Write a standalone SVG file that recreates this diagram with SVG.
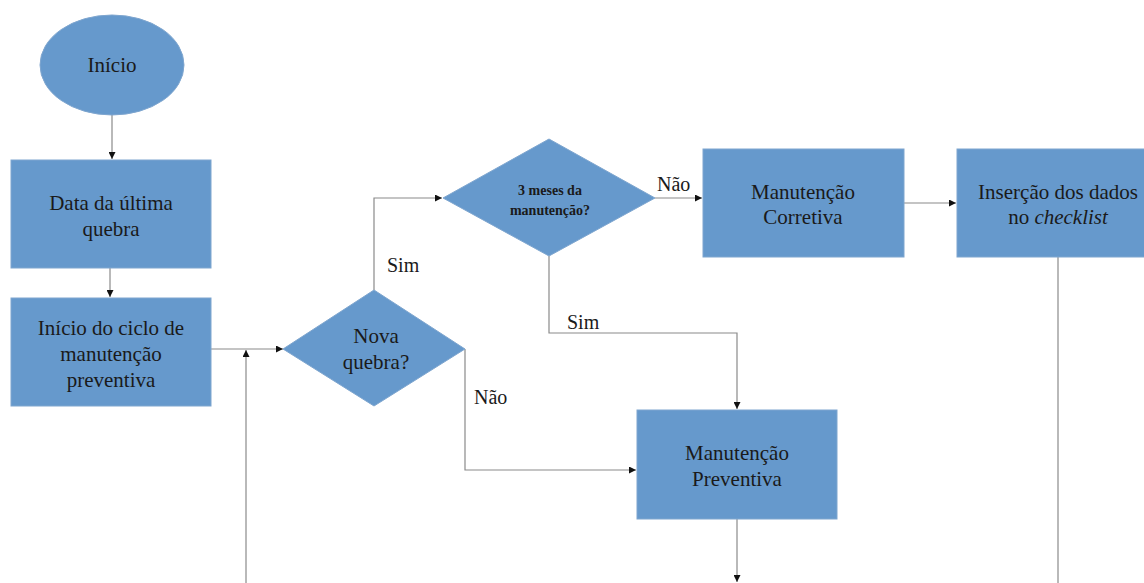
<svg xmlns="http://www.w3.org/2000/svg" width="1144" height="583" viewBox="0 0 1144 583">
<style>
.n{fill:#6699cc;stroke:#7fa6cf;stroke-width:1}
.t{font-family:"Liberation Serif","Times New Roman",serif;font-size:21px;fill:#1a1a1a;text-anchor:middle}
.s{font-family:"Liberation Serif","Times New Roman",serif;font-size:14px;font-weight:bold;fill:#1a1a1a;text-anchor:middle}
.l{font-family:"Liberation Serif","Times New Roman",serif;font-size:20px;fill:#1a1a1a}
.c{fill:none;stroke:#8a8a8a;stroke-width:1.2}
</style>
<defs>
<marker id="a" viewBox="0 0 10 10" refX="10" refY="5" markerWidth="7" markerHeight="7" orient="auto" markerUnits="userSpaceOnUse">
<path d="M0,0 L10,5 L0,10 z" fill="#111"/>
</marker>
</defs>
<rect width="1144" height="583" fill="#fff"/>
<g id="connectors">
<path class="c" d="M112,115 V159" marker-end="url(#a)"/>
<path class="c" d="M110,268 V297" marker-end="url(#a)"/>
<path class="c" d="M211,349 H283" marker-end="url(#a)"/>
<path class="c" d="M246,583 V350" marker-end="url(#a)"/>
<path class="c" d="M374,290 V198 H442" marker-end="url(#a)"/>
<path class="c" d="M655,198 H702" marker-end="url(#a)"/>
<path class="c" d="M904,203 H956" marker-end="url(#a)"/>
<path class="c" d="M549,256 V333 H737 V409" marker-end="url(#a)"/>
<path class="c" d="M465,349 V470 H636" marker-end="url(#a)"/>
<path class="c" d="M737,519 V582" marker-end="url(#a)"/>
<path class="c" d="M1058,257 V583"/>
<text class="l" x="387" y="272">Sim</text>
<text class="l" x="657" y="191">Não</text>
<text class="l" x="567" y="329">Sim</text>
<text class="l" x="474" y="404">Não</text>
</g>
<g id="inicio">
<ellipse class="n" cx="112" cy="65" rx="72" ry="50" stroke="#444"/>
<text class="t" x="112" y="72">Início</text>
</g>
<g id="data">
<rect class="n" x="11" y="160" width="200" height="108"/>
<text class="t" x="111" y="210">Data da última</text>
<text class="t" x="111" y="236">quebra</text>
</g>
<g id="ciclo">
<rect class="n" x="11" y="298" width="200" height="108"/>
<text class="t" x="111" y="335">Início do ciclo de</text>
<text class="t" x="111" y="361">manutenção</text>
<text class="t" x="111" y="387">preventiva</text>
</g>
<g id="nova">
<polygon class="n" points="283,349 374,290 465,349 374,406"/>
<text class="t" x="376" y="343">Nova</text>
<text class="t" x="376" y="369">quebra?</text>
</g>
<g id="meses">
<polygon class="n" points="443,198 549,139 655,198 549,256"/>
<text class="s" x="550" y="195">3 meses da</text>
<text class="s" x="550" y="215">manutenção?</text>
</g>
<g id="corretiva">
<rect class="n" x="703" y="149" width="201" height="108"/>
<text class="t" x="803" y="199">Manutenção</text>
<text class="t" x="803" y="224">Corretiva</text>
</g>
<g id="insercao">
<rect class="n" x="957" y="149" width="200" height="108"/>
<text class="t" x="1058" y="199">Inserção dos dados</text>
<text class="t" x="1058" y="224">no <tspan font-style="italic">checklist</tspan></text>
</g>
<g id="preventiva">
<rect class="n" x="637" y="410" width="200" height="109"/>
<text class="t" x="737" y="460">Manutenção</text>
<text class="t" x="737" y="486">Preventiva</text>
</g>
</svg>
